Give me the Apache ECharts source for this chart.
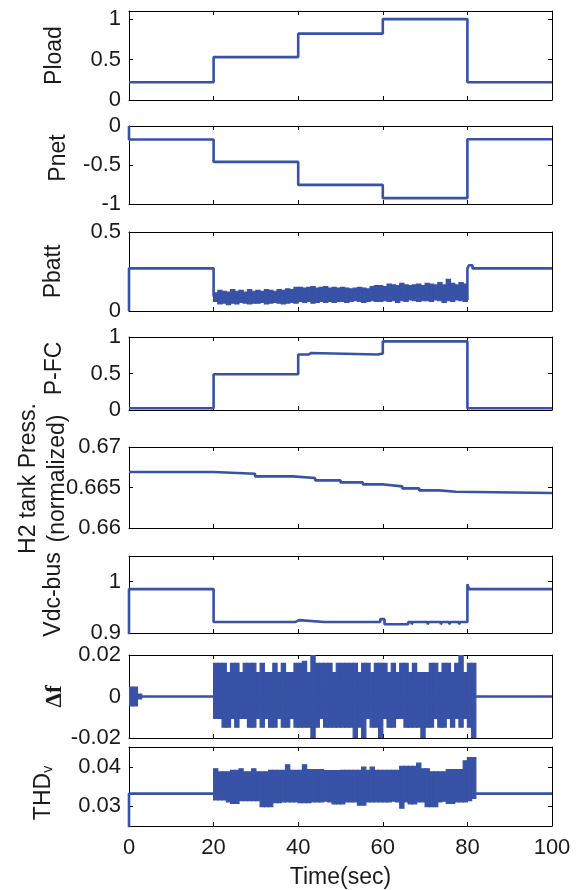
<!DOCTYPE html>
<html>
<head>
<meta charset="utf-8">
<script src="https://cdn.jsdelivr.net/npm/echarts@6/dist/echarts.min.js"></script>
<style>
  html, body { margin: 0; padding: 0; background: #ffffff; }
  #chart { width: 579px; height: 890px; }
</style>
</head>
<body>
<div id="chart"></div>
<script>
// ---- time axis ----
const timeTicks = [0, 20, 40, 60, 80, 100];

// ---- step signals: [time (s), value] pairs, value held until the next time ----
const ploadSteps = [[0, 0.22], [20, 0.53], [40, 0.82], [60, 1.0], [80, 0.22], [100, 0.22]];
const pnetSteps = [[0, 0], [0, -0.173], [20, -0.46], [40, -0.755], [60, -0.925],
  [64, -0.905], [64.4, -0.925], [69, -0.905], [69.4, -0.925], [74.5, -0.905], [74.9, -0.925],
  [75.8, -0.905], [76.2, -0.925], [76.8, -0.905], [77.2, -0.925], [77.8, -0.905], [78.2, -0.925],
  [80, -0.17], [100, -0.17]];
const pbattPre = [[0, 0], [0, 0.27], [20, 0.09]];
const pbattPost = [[80, 0.07], [80, 0.27], [80.4, 0.29], [81.2, 0.27], [100, 0.27]];
const pfcSteps = [[0, 0.025], [20, 0.49], [40, 0.76], [42.4, 0.78], [43, 0.76], [58.8, 0.775],
  [60, 0.94], [80, 0.025], [100, 0.025]];
const h2Steps = [[0, 0.66691], [20, 0.66670], [29.8, 0.66637], [38.8, 0.66617], [44, 0.66588],
  [50, 0.66563], [55.3, 0.66538], [60.3, 0.66514], [64.6, 0.66489], [68.6, 0.66464],
  [73.3, 0.66448], [77.3, 0.66432], [100, 0.66432]];
const vdcSteps = [[0, 0], [0, 0.9855], [20, 0.9215], [39.4, 0.925], [40.2, 0.9215], [46.2, 0.919],
  [46.6, 0.9215], [59.4, 0.927], [60.4, 0.917], [66, 0.9215], [66.8, 0.917], [67.1, 0.9215],
  [70.6, 0.917], [70.9, 0.9215], [73.7, 0.917], [74, 0.9215], [75.7, 0.917], [76, 0.9215],
  [78, 0.917], [78.3, 0.9215], [80, 0.995], [80.4, 0.9855], [100, 0.9855]];
const dfBaseline = [[0, 0], [100, 0]];
const thdPre = [[0, 0], [0, 0.0332], [15, 0.0337], [15.3, 0.0332], [20, 0.0332]];
const thdPost = [[82, 0.0332], [100, 0.0332]];

// ---- ripple envelopes, one bin per second starting at *Start ----
const pbattStart = 20;
const pbattHi = [0.115, 0.13, 0.125, 0.12, 0.135, 0.125, 0.13, 0.12, 0.135, 0.125,
  0.13, 0.125, 0.135, 0.13, 0.125, 0.135, 0.13, 0.14, 0.135, 0.15,
  0.15, 0.145, 0.15, 0.155, 0.145, 0.15, 0.155, 0.145, 0.15, 0.145,
  0.15, 0.145, 0.14, 0.145, 0.15, 0.145, 0.14, 0.155, 0.16, 0.16,
  0.155, 0.17, 0.165, 0.16, 0.175, 0.165, 0.16, 0.165, 0.17, 0.16,
  0.175, 0.17, 0.165, 0.18, 0.165, 0.2, 0.175, 0.165, 0.18, 0.17];
const pbattLo = [0.06, 0.045, 0.05, 0.04, 0.05, 0.045, 0.055, 0.05, 0.045, 0.05,
  0.05, 0.055, 0.045, 0.05, 0.055, 0.05, 0.045, 0.05, 0.055, 0.05,
  0.06, 0.055, 0.06, 0.05, 0.055, 0.06, 0.055, 0.06, 0.055, 0.06,
  0.06, 0.055, 0.06, 0.065, 0.06, 0.055, 0.06, 0.065, 0.06, 0.06,
  0.065, 0.06, 0.065, 0.055, 0.065, 0.06, 0.07, 0.065, 0.06, 0.065,
  0.065, 0.06, 0.07, 0.065, 0.055, 0.065, 0.06, 0.07, 0.065, 0.06];

const dfEarlyStart = 0;
const dfEarlyHi = [0.0045, 0.0045, 0.0012];
const dfEarlyLo = [-0.0045, -0.0045, -0.0012];
const dfStart = 20;
const dfHi = [0.016, 0.016, 0.016, 0.0115, 0.016, 0.016, 0.0115, 0.016, 0.016, 0.016,
  0.0115, 0.016, 0.0115, 0.0115, 0.016, 0.0115, 0.016, 0.0115, 0.0115, 0.016,
  0.016, 0.017, 0.0115, 0.02, 0.016, 0.016, 0.016, 0.016, 0.0115, 0.016,
  0.016, 0.016, 0.016, 0.016, 0.0115, 0.016, 0.016, 0.0115, 0.016, 0.016,
  0.016, 0.0115, 0.016, 0.0115, 0.016, 0.016, 0.0115, 0.016, 0.0115, 0.0115,
  0.0115, 0.016, 0.016, 0.0115, 0.016, 0.016, 0.0115, 0.016, 0.02, 0.0115,
  0.016, 0.016];
const dfLo = [-0.0105, -0.0105, -0.0148, -0.0148, -0.0105, -0.0148, -0.0105, -0.0105, -0.0148, -0.0148,
  -0.0105, -0.0148, -0.0105, -0.0148, -0.0148, -0.0105, -0.0148, -0.0148, -0.0105, -0.0148,
  -0.0148, -0.0148, -0.0148, -0.02, -0.0148, -0.0105, -0.0148, -0.0148, -0.0148, -0.0148,
  -0.0148, -0.0148, -0.0148, -0.02, -0.0148, -0.02, -0.0105, -0.0148, -0.0148, -0.02,
  -0.0105, -0.0148, -0.0148, -0.0105, -0.0105, -0.0148, -0.0148, -0.0148, -0.0148, -0.02,
  -0.0148, -0.0148, -0.0105, -0.0148, -0.0148, -0.0105, -0.0148, -0.0105, -0.0148, -0.0105,
  -0.0148, -0.02];

const thdStart = 20;
const thdHi = [0.0395, 0.0387, 0.0387, 0.0387, 0.0391, 0.0391, 0.0395, 0.0387, 0.0387, 0.0395,
  0.0387, 0.0387, 0.0387, 0.0391, 0.0391, 0.0391, 0.0391, 0.0405, 0.0391, 0.0391,
  0.0391, 0.0405, 0.0393, 0.0393, 0.0393, 0.0393, 0.0390, 0.0390, 0.0390, 0.0390,
  0.0391, 0.0391, 0.0391, 0.0391, 0.0391, 0.0399, 0.0391, 0.0399, 0.0391, 0.0391,
  0.0391, 0.0391, 0.0391, 0.0391, 0.0401, 0.0401, 0.0401, 0.0401, 0.0409, 0.0395,
  0.0395, 0.0387, 0.0387, 0.0387, 0.0387, 0.0393, 0.0393, 0.0393, 0.0393, 0.0415,
  0.0423, 0.0423];
const thdLo = [0.0316, 0.0316, 0.0316, 0.0311, 0.0307, 0.0307, 0.0314, 0.0314, 0.0314, 0.0314,
  0.0314, 0.0299, 0.0299, 0.0299, 0.0309, 0.0309, 0.0311, 0.0311, 0.0311, 0.0311,
  0.0309, 0.0309, 0.0309, 0.0311, 0.0311, 0.0311, 0.0313, 0.0311, 0.0306, 0.0306,
  0.0306, 0.0311, 0.0311, 0.0311, 0.0303, 0.0303, 0.0311, 0.0311, 0.0311, 0.0311,
  0.0311, 0.0311, 0.0313, 0.0311, 0.0295, 0.0311, 0.0306, 0.0306, 0.0311, 0.0311,
  0.0299, 0.0299, 0.0299, 0.0311, 0.0313, 0.0307, 0.0307, 0.0311, 0.0311, 0.0311,
  0.0314, 0.032];

// ---- y ranges and tick labels ----
const yRanges = [[0, 1.1], [-1, 0], [0, 0.5], [0, 1], [0.66, 0.67], [0.9, 1.05], [-0.02, 0.02], [0.025, 0.045]];
const yTicks = [[0, 0.5, 1], [-1, -0.5, 0], [0, 0.5], [0, 0.5, 1], [0.66, 0.665, 0.67], [0.9, 1], [-0.02, 0, 0.02], [0.03, 0.04]];
const yNames = ['Pload', 'Pnet', 'Pbatt', 'P-FC', 'H2 tank Press.\n(normalized)', 'Vdc-bus', 'Δf', '{m|THD}{s|v}'];
const xName = 'Time(sec)';

// ---- layout of the stacked panels (px) ----
const plotLeft = 129, plotRight = 27;
const panelBoxes = [[11, 89], [126, 78], [232, 79], [337, 73], [447, 81], [556, 77], [655, 83], [747, 79]];
const nameGaps = [60, 56, 61, 60, 57, 61, 59, 71];
const namePads = [0, 14, 0, 10, 18, 0, 0, -13];

const BLUE = '#3752a6';
const INK = '#1a1a1a';
const FONT = '"Liberation Sans", Arial, sans-serif';
const TICK_SIZE = 22, NAME_SIZE = 23;

function bandData(start, hi, lo) {
  return hi.map((h, i) => [start + i, lo[i], h]);
}

function renderBand(params, api) {
  const t = api.value(0);
  const p0 = api.coord([t, api.value(2)]);
  const p1 = api.coord([t + 1, api.value(1)]);
  return {
    type: 'rect',
    shape: { x: p0[0], y: p0[1], width: p1[0] - p0[0], height: p1[1] - p0[1] },
    style: { fill: BLUE, stroke: BLUE, lineWidth: 1.2 }
  };
}

const grids = [], xAxes = [], yAxes = [], series = [];

panelBoxes.forEach((box, i) => {
  grids.push({ left: plotLeft, right: plotRight, top: box[0], height: box[1], containLabel: false, outerBoundsMode: 'none' });
  const last = i === panelBoxes.length - 1;
  const lineStyle = { color: '#000', width: 1 };
  // bottom and top time axes
  xAxes.push({
    type: 'value', gridIndex: i, position: 'bottom', min: 0, max: 100,
    axisLine: { show: true, onZero: false, lineStyle },
    axisTick: { show: true, inside: true, length: 4, customValues: timeTicks, lineStyle },
    axisLabel: last ? { show: true, customValues: timeTicks, margin: 11, fontSize: TICK_SIZE, fontFamily: FONT, color: INK } : { show: false },
    splitLine: { show: false },
    name: last ? xName : '', nameLocation: 'middle', nameGap: 40, nameMoveOverlap: false,
    nameTextStyle: { fontSize: NAME_SIZE, fontFamily: FONT, color: INK }
  });
  xAxes.push({
    type: 'value', gridIndex: i, position: 'top', min: 0, max: 100,
    axisLine: { show: true, onZero: false, lineStyle },
    axisTick: { show: true, inside: true, length: 4, customValues: timeTicks, lineStyle },
    axisLabel: { show: false }, splitLine: { show: false }
  });
  // left (labelled) and right value axes
  const pad = namePads[i];
  yAxes.push({
    type: 'value', gridIndex: i, position: 'left', min: yRanges[i][0], max: yRanges[i][1],
    axisLine: { show: true, onZero: false, lineStyle },
    axisTick: { show: true, inside: true, length: 4, customValues: yTicks[i], lineStyle },
    axisLabel: { show: true, customValues: yTicks[i], margin: 8, fontSize: TICK_SIZE, fontFamily: FONT, color: INK,
      formatter: v => String(v) },
    splitLine: { show: false },
    name: yNames[i], nameLocation: 'middle', nameRotate: 90, nameGap: nameGaps[i], nameMoveOverlap: false,
    nameTextStyle: {
      fontSize: i === 6 ? 23 : NAME_SIZE,
      fontFamily: i === 6 ? '"Liberation Serif", "Times New Roman", serif' : FONT,
      fontWeight: i === 6 ? 'bold' : 'normal',
      color: INK,
      lineHeight: 29,
      padding: pad >= 0 ? [0, 0, 0, pad] : [0, -pad, 0, 0],
      rich: {
        m: { fontSize: NAME_SIZE, fontFamily: FONT, color: INK },
        s: { fontSize: 14, fontFamily: FONT, color: INK, padding: [10, 0, 0, 0] }
      }
    }
  });
  yAxes.push({
    type: 'value', gridIndex: i, position: 'right', min: yRanges[i][0], max: yRanges[i][1],
    axisLine: { show: true, onZero: false, lineStyle },
    axisTick: { show: true, inside: true, length: 4, customValues: yTicks[i], lineStyle },
    axisLabel: { show: false }, splitLine: { show: false }
  });
});

function stepLine(panel, data) {
  series.push({
    type: 'line', xAxisIndex: 2 * panel, yAxisIndex: 2 * panel, data,
    step: 'end', showSymbol: false, symbol: 'none', clip: true, animation: false,
    lineStyle: { color: BLUE, width: 2.6 }
  });
}
function band(panel, data) {
  series.push({
    type: 'custom', xAxisIndex: 2 * panel, yAxisIndex: 2 * panel, data,
    encode: { x: 0, y: [1, 2] }, renderItem: renderBand, clip: true, animation: false
  });
}

stepLine(0, ploadSteps);
stepLine(1, pnetSteps);
stepLine(2, pbattPre);
band(2, bandData(pbattStart, pbattHi, pbattLo));
stepLine(2, pbattPost);
stepLine(3, pfcSteps);
stepLine(4, h2Steps);
stepLine(5, vdcSteps);
stepLine(6, dfBaseline);
band(6, bandData(dfEarlyStart, dfEarlyHi, dfEarlyLo));
band(6, bandData(dfStart, dfHi, dfLo));
stepLine(7, thdPre);
band(7, bandData(thdStart, thdHi, thdLo));
stepLine(7, thdPost);

const chart = echarts.init(document.getElementById('chart'), null, { renderer: 'canvas' });
chart.setOption({
  backgroundColor: '#ffffff',
  animation: false,
  grid: grids,
  xAxis: xAxes,
  yAxis: yAxes,
  series
});
</script>
</body>
</html>
